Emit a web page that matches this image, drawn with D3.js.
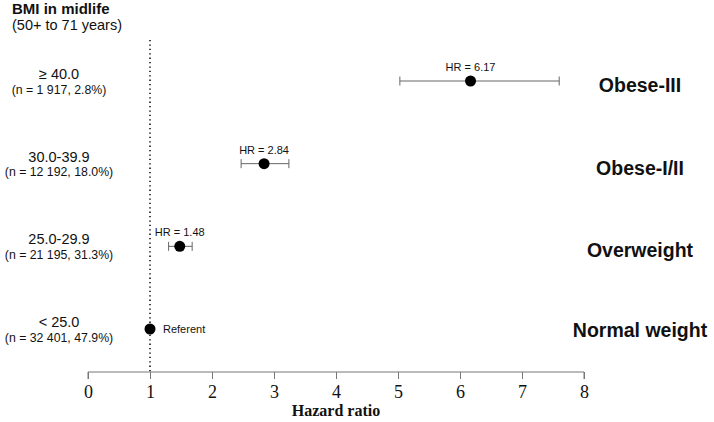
<!DOCTYPE html>
<html><head><meta charset="utf-8">
<script src="https://cdn.jsdelivr.net/npm/d3@7"></script>
<style>body{margin:0;background:#fff}svg{display:block}</style>
</head><body>
<svg id="c" width="714" height="422"></svg>
<script>
const bmiLabels = ["\u2265 40.0", "30.0-39.9", "25.0-29.9", "< 25.0"];
const nLabels = ["(n = 1 917, 2.8%)", "(n = 12 192, 18.0%)", "(n = 21 195, 31.3%)", "(n = 32 401, 47.9%)"];
const categories = ["Obese-III", "Obese-I/II", "Overweight", "Normal weight"];
const hr = [6.17, 2.84, 1.48, 1.0];
const ciLow = [5.03, 2.47, 1.30, null];
const ciHigh = [7.60, 3.24, 1.68, null];
const hrLabels = ["HR = 6.17", "HR = 2.84", "HR = 1.48", "Referent"];
const xTicks = [0, 1, 2, 3, 4, 5, 6, 7, 8];

const svg = d3.select("#c");
const x = d3.scaleLinear().domain([0, 8]).range([88, 584]);
const y = d3.scalePoint().domain(categories).range([81, 329]);
const sans = "Arial, 'Liberation Sans', sans-serif";
const serif = "'Times New Roman', 'Liberation Serif', serif";
const axisY = 372;

// header
svg.append("text").attr("x", 12).attr("y", 14).attr("font-family", sans).attr("font-size", 15).attr("font-weight", "bold").attr("fill", "#111").text("BMI in midlife");
svg.append("text").attr("x", 12).attr("y", 29.5).attr("font-family", sans).attr("font-size", 14.5).attr("fill", "#111").text("(50+ to 71 years)");

// reference line
svg.append("line").attr("x1", x(1)).attr("x2", x(1)).attr("y1", 40).attr("y2", axisY)
  .attr("stroke", "#111").attr("stroke-width", 1.6).attr("stroke-dasharray", "1.3,3.1");

// axis
const ax = svg.append("g").attr("transform", `translate(0,${axisY})`)
  .call(d3.axisBottom(x).tickValues(xTicks).tickSize(7).tickPadding(6).tickFormat(d3.format("d")));
ax.select(".domain").attr("stroke", "#777").attr("d", `M${x(0)},7V0H${x(8)}V7`);
ax.selectAll(".tick line").attr("stroke", "#777");
ax.selectAll(".tick text").attr("font-family", serif).attr("font-size", 18).attr("fill", "#111");
svg.append("text").attr("x", x(4)).attr("y", 416).attr("text-anchor", "middle").attr("font-family", serif)
  .attr("font-size", 16).attr("font-weight", "bold").attr("fill", "#111").text("Hazard ratio");

// rows
categories.forEach((c, i) => {
  const yy = y(c);
  svg.append("text").attr("x", 59).attr("y", yy - 2).attr("text-anchor", "middle").attr("font-family", sans).attr("font-size", 14.5).attr("fill", "#111").text(bmiLabels[i]);
  svg.append("text").attr("x", 59).attr("y", yy + 12.5).attr("text-anchor", "middle").attr("font-family", sans).attr("font-size", 12.3).attr("fill", "#111").text(nLabels[i]);
  svg.append("text").attr("x", 640).attr("y", yy + (i === 3 ? 8 : 11)).attr("text-anchor", "middle").attr("font-family", sans).attr("font-size", 19.5).attr("font-weight", "bold").attr("fill", "#111").text(c);
  if (ciLow[i] != null) {
    const g = svg.append("g").attr("stroke", "#666").attr("stroke-width", 1);
    g.append("line").attr("x1", x(ciLow[i])).attr("x2", x(ciHigh[i])).attr("y1", yy).attr("y2", yy);
    g.append("line").attr("x1", x(ciLow[i])).attr("x2", x(ciLow[i])).attr("y1", yy - 4.5).attr("y2", yy + 4.5);
    g.append("line").attr("x1", x(ciHigh[i])).attr("x2", x(ciHigh[i])).attr("y1", yy - 4.5).attr("y2", yy + 4.5);
    svg.append("text").attr("x", x(hr[i])).attr("y", yy - 10).attr("text-anchor", "middle").attr("font-family", sans).attr("font-size", 11).attr("fill", "#111").text(hrLabels[i]);
  } else {
    svg.append("text").attr("x", x(hr[i]) + 13).attr("y", yy + 4).attr("font-family", sans).attr("font-size", 11).attr("fill", "#111").text(hrLabels[i]);
  }
  svg.append("circle").attr("cx", x(hr[i])).attr("cy", yy).attr("r", 5.5).attr("fill", "#000");
});
</script>
</body></html>
